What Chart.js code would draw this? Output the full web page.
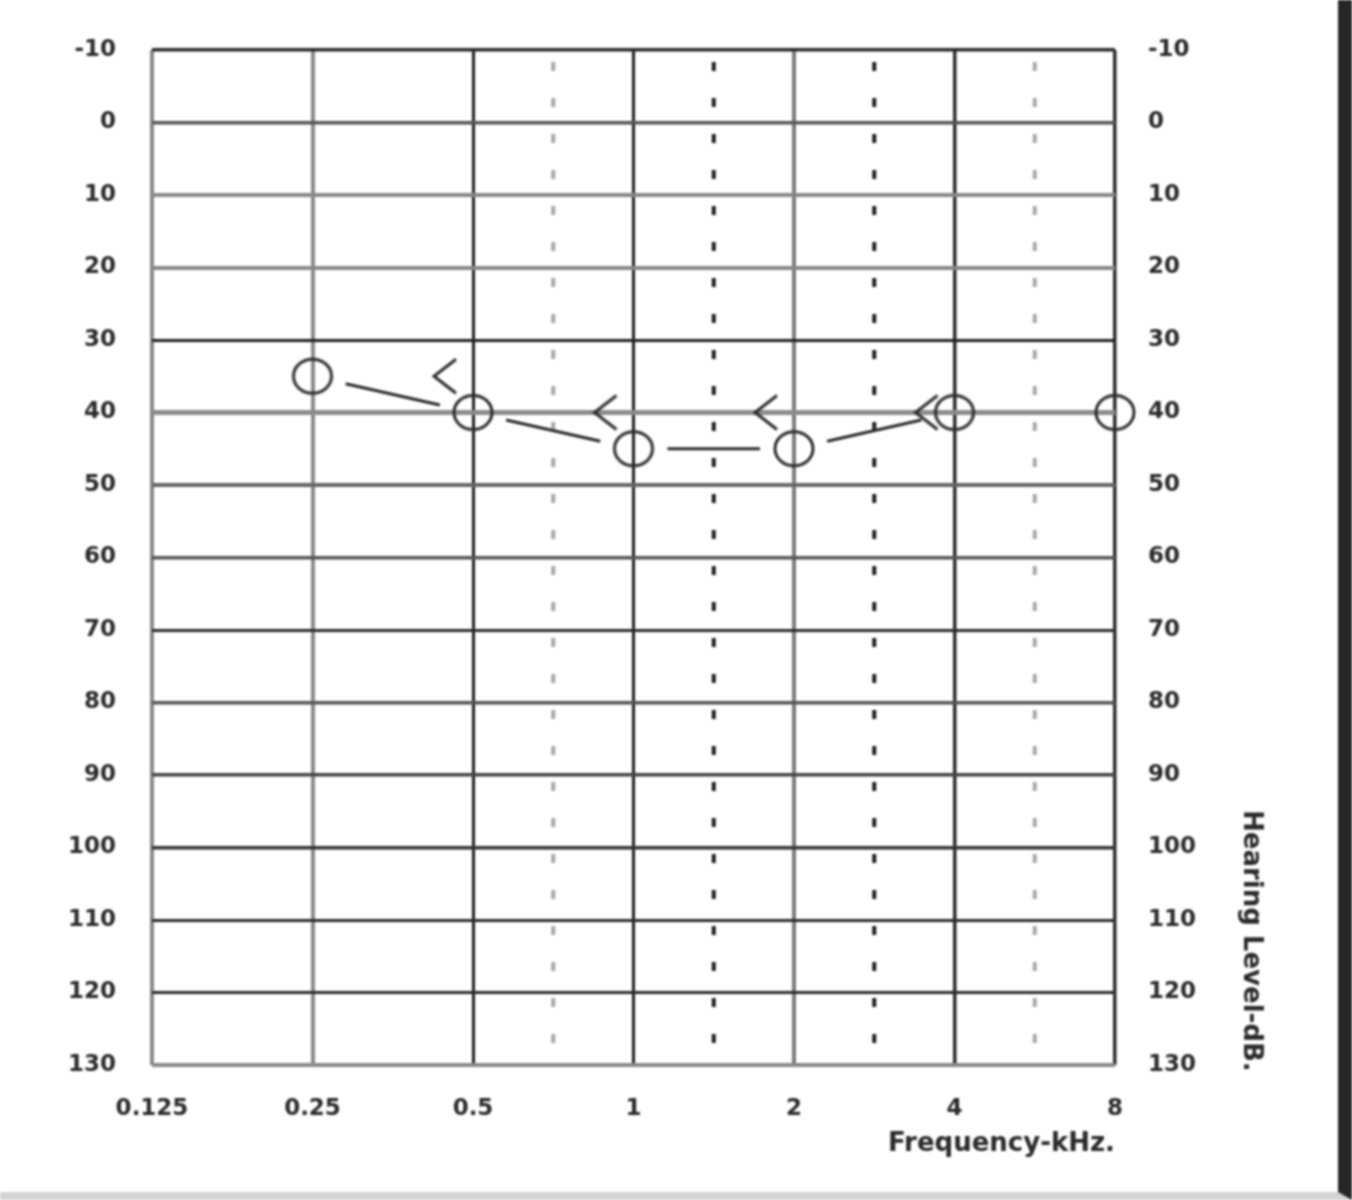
<!DOCTYPE html>
<html lang="en">

<head>
    <meta charset="UTF-8">
    <title>Audiogram</title>
    <script src="https://cdn.jsdelivr.net/npm/chart.js"></script>
    <style>
        body {
            margin: 0;
            background: #ffffff;
        }

        .wrap {
            position: relative;
            width: 1338px;
            height: 1192px;
            border-right: 14px solid #262626;
            border-bottom: 8px solid #d4d4d4;
            filter: blur(0.8px);
        }

        .y-title {
            position: absolute;
            left: 1238px;
            top: 810px;
            writing-mode: vertical-rl;
            font: bold 26px "DejaVu Sans", sans-serif;
            color: #2a2a2a;
        }
    </style>
</head>

<body>
    <div class="wrap">
        <canvas id="audiogram" width="1338" height="1192"></canvas>
        <div class="y-title">Hearing Level-dB.</div>
    </div>

    <script>
        // frequency axis (kHz) and hearing level axis (dB)
        const freqTicks = [0.125, 0.25, 0.5, 1, 2, 4, 8];
        const freqLabels = ['0.125', '0.25', '0.5', '1', '2', '4', '8'];
        const levelMin = -10;
        const levelMax = 130;

        // air conduction (O), joined by a line except the last point
        const airFreqs = [0.25, 0.5, 1, 2, 4, 8];
        const airLevels = [35, 40, 45, 45, 40, 40];
        const airJoined = [true, true, true, true, false, false];

        // bone conduction (<)
        const boneFreqs = [0.5, 1, 2, 4];
        const boneLevels = [35, 40, 40, 40];

        const ink = '#2a2a2a';
        const tickFont = { family: 'DejaVu Sans', size: 23, weight: 'bold' };

        // marker images
        function makeCircle() {
            const c = document.createElement('canvas');
            c.width = 46; c.height = 42;
            const g = c.getContext('2d');
            g.strokeStyle = ink;
            g.lineWidth = 3;
            g.beginPath();
            g.ellipse(23, 21, 19, 17, 0, 0, Math.PI * 2);
            g.stroke();
            return c;
        }

        function makeLess() {
            // drawn left of the point, the centre of the image is the data point
            const c = document.createElement('canvas');
            c.width = 90; c.height = 44;
            const g = c.getContext('2d');
            g.strokeStyle = ink;
            g.lineWidth = 3;
            g.beginPath();
            g.moveTo(45 - 17, 22 - 17);
            g.lineTo(45 - 39, 22);
            g.lineTo(45 - 17, 22 + 17);
            g.stroke();
            return c;
        }

        // grid styles
        const xGrid = {
            0.125: ['#8a8a8a', 4], 0.25: ['#8a8a8a', 4], 0.5: ['#1e1e1e', 3],
            1: ['#1e1e1e', 3], 2: ['#7a7a7a', 4], 4: ['#2a2a2a', 3.5], 8: ['#2a2a2a', 3.5]
        };
        const yGrid = {
            '-10': ['#2a2a2a', 3.5], 0: ['#555', 3.5], 10: ['#888', 4], 20: ['#888', 4],
            30: ['#1e1e1e', 3], 40: ['#8c8c8c', 5], 50: ['#666', 4], 60: ['#555', 3.5],
            70: ['#2a2a2a', 3], 80: ['#555', 3.5], 90: ['#444', 3.5], 100: ['#333', 3.5],
            110: ['#2a2a2a', 3], 120: ['#2a2a2a', 3], 130: ['#8a8a8a', 4]
        };

        // half-octave dashed lines
        const halfOctave = {
            id: 'halfOctave',
            beforeDatasetsDraw(chart) {
                const { ctx, chartArea, scales } = chart;
                ctx.save();
                ctx.lineWidth = 4;
                ctx.setLineDash([9, 27]);
                ctx.lineDashOffset = -12;
                for (let i = 0; i < freqTicks.length - 1; i++) {
                    const f = Math.sqrt(freqTicks[i] * freqTicks[i + 1]);
                    if (f < 0.5) continue;
                    const x = scales.x.getPixelForValue(f);
                    ctx.strokeStyle = (f < 1 || f > 4) ? '#a8a8a8' : '#1e1e1e';
                    ctx.beginPath();
                    ctx.moveTo(x, chartArea.top);
                    ctx.lineTo(x, chartArea.bottom);
                    ctx.stroke();
                }
                ctx.restore();
            }
        };

        // air line, stopped short of each circle
        const airLine = {
            id: 'airLine',
            afterDatasetsDraw(chart) {
                const pts = chart.getDatasetMeta(0).data;
                const ctx = chart.ctx;
                const gap = 34;
                ctx.save();
                ctx.strokeStyle = ink;
                ctx.lineWidth = 3;
                for (let i = 0; i < pts.length - 1; i++) {
                    if (!airJoined[i]) continue;
                    const a = pts[i], b = pts[i + 1];
                    const dx = b.x - a.x, dy = b.y - a.y;
                    const len = Math.hypot(dx, dy);
                    const ux = dx / len, uy = dy / len;
                    ctx.beginPath();
                    ctx.moveTo(a.x + ux * gap, a.y + uy * gap);
                    ctx.lineTo(b.x - ux * gap, b.y - uy * gap);
                    ctx.stroke();
                }
                ctx.restore();
            }
        };

        new Chart(document.getElementById('audiogram'), {
            type: 'scatter',
            data: {
                datasets: [{
                    label: 'Air',
                    data: airFreqs.map((f, i) => ({ x: f, y: airLevels[i] })),
                    pointStyle: makeCircle(),
                    showLine: false,
                    clip: false
                }, {
                    label: 'Bone',
                    data: boneFreqs.map((f, i) => ({ x: f, y: boneLevels[i] })),
                    pointStyle: makeLess(),
                    showLine: false,
                    clip: false
                }]
            },
            options: {
                responsive: false,
                animation: false,
                events: [],
                layout: { padding: { top: 50, left: 0, right: 69, bottom: 30 } },
                plugins: {
                    legend: { display: false },
                    tooltip: { enabled: false }
                },
                scales: {
                    x: {
                        type: 'logarithmic',
                        min: 0.125,
                        max: 8,
                        afterBuildTicks: s => { s.ticks = freqTicks.map(v => ({ value: v })); },
                        afterFit: s => { s.height = 97; },
                        border: { display: false },
                        grid: {
                            drawTicks: false,
                            color: c => (xGrid[c.tick.value] || ['#333'])[0],
                            lineWidth: c => (xGrid[c.tick.value] || [0, 3])[1]
                        },
                        ticks: {
                            autoSkip: false,
                            maxRotation: 0,
                            padding: 30,
                            color: ink,
                            font: tickFont,
                            callback: v => freqLabels[freqTicks.indexOf(v)]
                        },
                        title: {
                            display: true,
                            text: 'Frequency-kHz.',
                            align: 'end',
                            color: ink,
                            font: { family: 'DejaVu Sans', size: 26, weight: 'bold' },
                            padding: { top: 0, bottom: 2 }
                        }
                    },
                    y: {
                        position: 'left',
                        reverse: true,
                        min: levelMin,
                        max: levelMax,
                        afterFit: s => { s.width = 152; },
                        border: { display: false },
                        grid: {
                            drawTicks: false,
                            color: c => (yGrid[c.tick.value] || ['#333'])[0],
                            lineWidth: c => (yGrid[c.tick.value] || [0, 3])[1]
                        },
                        ticks: { stepSize: 10, padding: 36, color: ink, font: tickFont }
                    },
                    y2: {
                        position: 'right',
                        reverse: true,
                        min: levelMin,
                        max: levelMax,
                        afterFit: s => { s.width = 154; },
                        border: { display: false },
                        grid: { display: false, drawTicks: false },
                        ticks: { stepSize: 10, padding: 33, color: ink, font: tickFont }
                    }
                }
            },
            plugins: [halfOctave, airLine]
        });
    </script>
</body>

</html>
